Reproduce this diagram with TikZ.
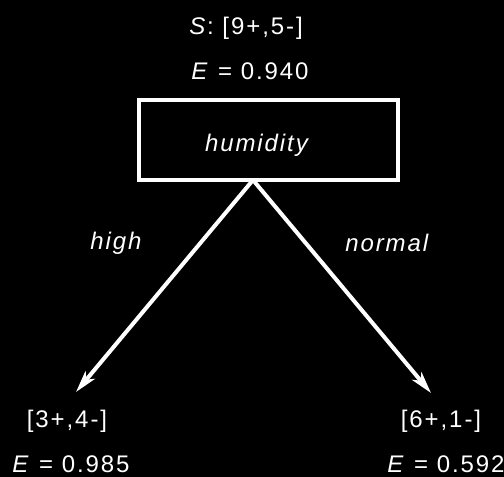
\documentclass[tikz,border=0pt]{standalone}
\usepackage{fontspec}
\setmainfont{Liberation Sans}[LetterSpace=8]
\usetikzlibrary{arrows.meta}
\begin{document}
\begin{tikzpicture}[x=0.5pt,y=-0.5pt,every node/.style={inner sep=1pt,text=white,font=\fontsize{12}{14}\selectfont}]
\tikzstyle{arrow}=[draw,white,line width=2pt,-{Stealth[length=11pt,width=6pt,inset=3pt]}]
\useasboundingbox(0,0) rectangle (504,477);
\fill[black](0,0) rectangle (504,477);
% root
\node(s0) at (246,28){\textit{S}: [9+,5-]};
\node(e0) at (250,71){\textit{E} = 0.940};
\node[draw=white,line width=2pt,minimum width=129.5pt,minimum height=40pt](n0) at (268,140){};
\node(t0) at (258,145){\textit{humidity}};
\coordinate(split) at (253,180);
% leaves
\coordinate(tip1) at (76,392);
\coordinate(tip2) at (431,393);
\node(s1) at (67,421){[3+,4-]};
\node(e1) at (71,464){\textit{E} = 0.985};
\node(s2) at (441,421){[6+,1-]};
\node(e2) at (446,464){\textit{E} = 0.592};

\path[arrow](split)--(tip1);
\path[arrow](split)--(tip2);
\node(b1) at (117,243){\textit{high}};
\node(b2) at (388,243){\textit{normal}};
\end{tikzpicture}
\end{document}
